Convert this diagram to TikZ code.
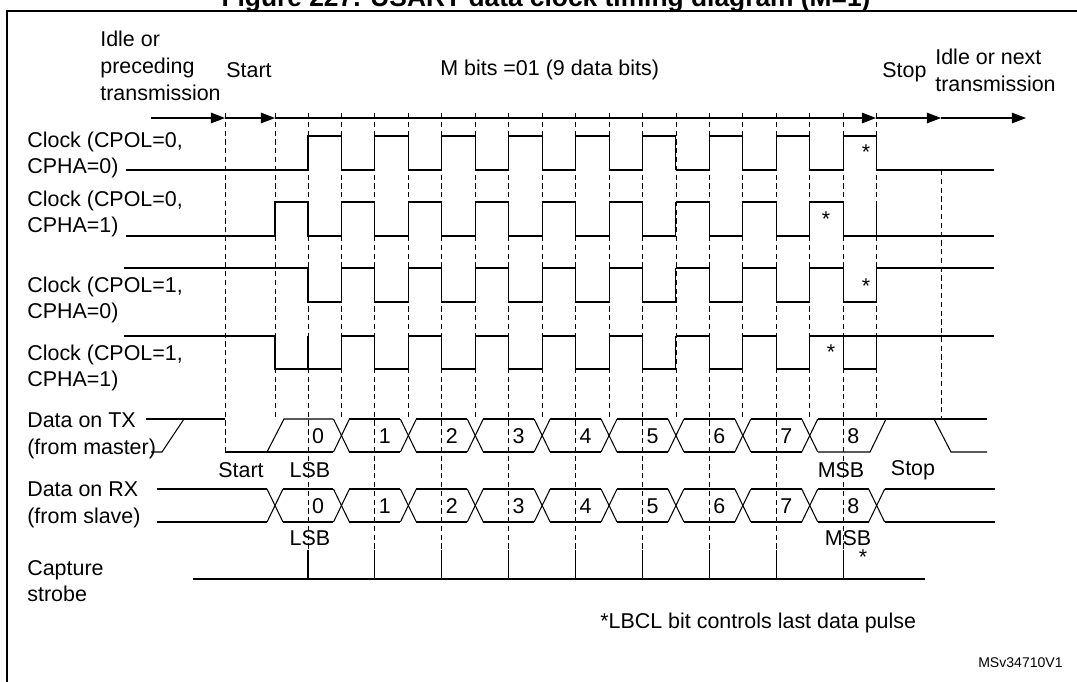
\documentclass[tikz,border=0pt]{standalone}
\usepackage{fontspec}
\setmainfont{Liberation Sans}
\usetikzlibrary{arrows.meta}

\begin{document}
\begin{tikzpicture}[x = 0.02cm, y = -0.02cm,
		txt/.style = {font = \fontsize{12.2}{15.2}\selectfont, inner sep = 0, align = left},
		grid/.style = {dashed, dash pattern = on 3pt off 2pt, line width = 0.5pt},
		wave/.style = {line width = 0.6pt},
		tip/.style = {-{Triangle[length = 8pt, width = 6pt]}}]
		\clip (0, 0) rectangle (1077, 681);
		\useasboundingbox (0, 0) rectangle (1077, 681);
		% Title and frame
		\node[txt, font = \fontsize{15}{17}\bfseries, anchor = base] (title) at (546, 6) {Figure 227. USART data clock timing diagram (M=1)};
		\draw[line width = 1.2pt] (1090, 11) -- (7, 11) -- (7, 690);
		% Grid
		\foreach \k in {1, 3, ..., 17}
			\draw[grid] (308 + 33.45*\k, 113) -- (308 + 33.45*\k, 419);
		\foreach \k in {0, 2, ..., 16} {
			\draw[grid] (308 + 33.45*\k, 113) -- (308 + 33.45*\k, 550);
			\draw[wave] (308 + 33.45*\k, 550) -- (308 + 33.45*\k, 579);
		}
		\draw[grid] (225, 113) -- (225, 452);
		\draw[grid] (275, 113) -- (275, 419);
		\draw[grid] (941, 170) -- (941, 419);
		% Time axis
		\draw[wave, tip] (151, 118) -- (225, 118);
		\draw[wave, tip] (225, 118) -- (275, 118);
		\draw[wave, tip] (275, 118) -- (876, 118);
		\draw[wave, tip] (876, 118) -- (941, 118);
		\draw[wave, tip] (941, 118) -- (1026, 118);
		% Clocks
		\draw[wave] (126, 170) -- (308, 170);
		\draw[wave] (124, 268) -- (308, 268);
		\draw[wave] (126, 236) -- (275, 236) -- (275, 202) -- (308, 202);
		\draw[wave] (124, 336) -- (275, 336) -- (275, 369) -- (308, 369);
		\foreach \i in {0, ..., 8} {
			\pgfmathsetmacro{\xa}{308 + 66.9*\i}
			\pgfmathsetmacro{\xb}{\xa + 33.45}
			\pgfmathsetmacro{\xc}{\xa + 66.9}
			\draw[wave] (\xa, 170) -- (\xa, 136) -- (\xb, 136) -- (\xb, 170);
			\draw[wave] (\xa, 268) -- (\xa, 302) -- (\xb, 302) -- (\xb, 268);
			\draw[wave] (\xa, 202) -- (\xa, 236) -- (\xb, 236) -- (\xb, 202);
			\draw[wave] (\xa, 336) -- (\xa, 369) -- (\xb, 369) -- (\xb, 336);
		}
		\foreach \i in {0, ..., 7} {
			\pgfmathsetmacro{\xb}{341.45 + 66.9*\i}
			\pgfmathsetmacro{\xc}{\xb + 33.45}
			\draw[wave] (\xb, 170) -- (\xc, 170);
			\draw[wave] (\xb, 268) -- (\xc, 268);
			\draw[wave] (\xb, 202) -- (\xc, 202);
			\draw[wave] (\xb, 336) -- (\xc, 336);
		}
		\draw[wave] (876, 170) -- (994, 170);
		\draw[wave] (876, 268) -- (994, 268);
		\draw[wave] (843, 236) -- (994, 236);
		\draw[wave] (843, 336) -- (994, 336);
		\node[txt] (st1) at (866, 152) {*};
		\node[txt] (st2) at (826, 219) {*};
		\node[txt] (st3) at (866, 286) {*};
		\node[txt] (st4) at (831, 352) {*};
		% Data on TX
		\draw[wave] (146, 419) -- (225, 419);
		\draw[wave] (151, 452) -- (162, 452) -- (184, 419);
		\draw[wave] (225, 452) -- (333, 452);
		\draw[wave] (267, 452) -- (284, 419) -- (333, 419);
		\foreach \k in {0, ..., 7} {
			\pgfmathsetmacro{\xc}{341.45 + 66.9*\k}
			\draw[wave] (\xc-8, 419) -- (\xc+8, 452);
			\draw[wave] (\xc-8, 452) -- (\xc+8, 419);
		}
		\foreach \k in {0, ..., 6} {
			\pgfmathsetmacro{\xc}{341.45 + 66.9*\k}
			\draw[wave] (\xc+8, 419) -- (\xc+58.9, 419);
			\draw[wave] (\xc+8, 452) -- (\xc+58.9, 452);
		}
		\draw[wave] (818, 419) -- (987, 419);
		\draw[wave] (818, 452) -- (870, 452) -- (886, 419);
		\draw[wave] (934, 419) -- (951, 452) -- (987, 452);
		% Data on RX
		\draw[wave] (157, 489) -- (267, 489);
		\draw[wave] (157, 522) -- (267, 522);
		\foreach \xc in {275, 341.45, 408.35, 475.25, 542.15, 609.05, 675.95, 742.85, 809.75, 876.65} {
			\draw[wave] (\xc-8, 489) -- (\xc+8, 522);
			\draw[wave] (\xc-8, 522) -- (\xc+8, 489);
		}
		\draw[wave] (283, 489) -- (333.45, 489);
		\draw[wave] (283, 522) -- (333.45, 522);
		\foreach \k in {0, ..., 7} {
			\pgfmathsetmacro{\xc}{341.45 + 66.9*\k}
			\draw[wave] (\xc+8, 489) -- (\xc+58.9, 489);
			\draw[wave] (\xc+8, 522) -- (\xc+58.9, 522);
		}
		\draw[wave] (884.65, 489) -- (995, 489);
		\draw[wave] (884.65, 522) -- (995, 522);
		% Bit numbers
		\foreach \b in {0, ..., 8} {
			\pgfmathsetmacro{\xd}{318 + 66.9*\b}
			\node[txt] (tx\b) at (\xd, 436) {\b};
			\node[txt] (rx\b) at (\xd, 506) {\b};
		}
		% Capture strobe
		\draw[wave] (193, 579) -- (925, 579);
		% Labels
		\node[txt, anchor = north west] (idle) at (100, 31) {Idle or\\preceding\\transmission};
		\node[txt, anchor = west] (start) at (226, 70) {Start};
		\node[txt, anchor = west] (mbits) at (440, 70) {M bits =01 (9 data bits)};
		\node[txt, anchor = west] (stop) at (882, 72) {Stop};
		\node[txt, anchor = west] (next) at (935, 70) {Idle or next\\transmission};
		\node[txt, anchor = west] (clk1) at (27, 155) {Clock (CPOL=0,\\CPHA=0)};
		\node[txt, anchor = west] (clk2) at (27, 214) {Clock (CPOL=0,\\CPHA=1)};
		\node[txt, anchor = west] (clk3) at (27, 300) {Clock (CPOL=1,\\CPHA=0)};
		\node[txt, anchor = west] (clk4) at (27, 368) {Clock (CPOL=1,\\CPHA=1)};
		\node[txt, anchor = west] (tx) at (27, 436) {Data on TX\\(from master)};
		\node[txt, anchor = west] (rx) at (27, 505) {Data on RX\\(from slave)};
		\node[txt, anchor = west] (cap) at (27, 581) {Capture\\strobe};
		\node[txt] (txstart) at (241, 470) {Start};
		\node[txt] (txlsb) at (310, 470) {LSB};
		\node[txt] (txmsb) at (841, 470) {MSB};
		\node[txt] (txstop) at (913, 470) {Stop};
		\node[txt] (rxlsb) at (310, 538) {LSB};
		\node[txt] (rxmsb) at (848, 538) {MSB};
		\node[txt] (rxstar) at (863, 557) {*};
		\node[txt, anchor = west] (note) at (600, 623) {*LBCL bit controls last data pulse};
		\node[txt, font = \fontsize{8}{9}\selectfont, anchor = east] (ref) at (1063, 663) {MSv34710V1};
	\end{tikzpicture}
\end{document}
